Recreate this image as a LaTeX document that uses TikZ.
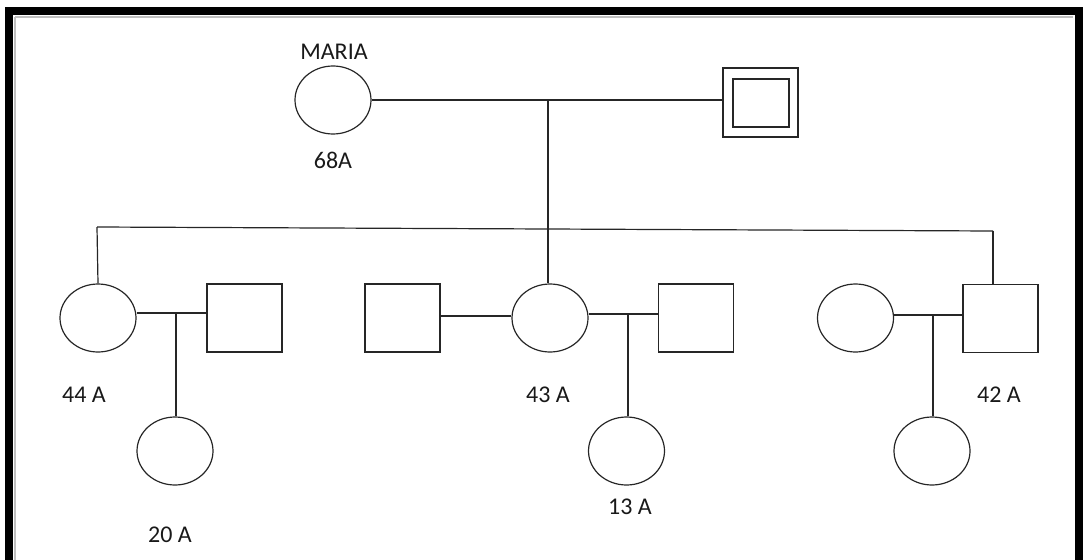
\documentclass[tikz,border=0pt]{standalone}
\usepackage{fontspec}
\setmainfont{Carlito}
\usetikzlibrary{shapes.geometric}
\begin{document}
\begin{tikzpicture}[x=1pt,y=-1pt,
  line width=1.2pt,
  fem/.style={draw=black!85, ellipse, minimum width=76pt, minimum height=68pt, inner sep=0pt},
  male/.style={draw=black!85, rectangle, minimum width=75pt, minimum height=68pt, inner sep=0pt},
  lbl/.style={font=\fontsize{24}{26}\selectfont, text=black!90, inner sep=0pt},
  link/.style={draw=black!85, line width=1.2pt}]
\useasboundingbox (0,0) rectangle (1083,559);
\clip (0,0) rectangle (1083,559);
% frame
\draw[line width=8pt] (9,11) rectangle (1079,620);
\draw[black!25, line width=2pt] (15,17) -- (1073,17);
\draw[black!25, line width=2pt] (15,17) -- (15,600);
% generation I
\node[fem] (maria) at (333,100) {};
\node[lbl] (mariaN) at (334,52) {MARIA};
\node[lbl] (mariaA) at (333,160) {68A};
\node[male, minimum width=75pt, minimum height=69pt] (hus) at (760.5,102.5) {};
\node[draw=black!85, minimum width=56pt, minimum height=48pt, inner sep=0pt] (husin) at (761,103) {};
\coordinate (m1) at (548,100);
\draw[link] (maria.east) -- (maria.east -| hus.west);
% generation II
\node[fem] (c1) at (98,318) {};
\node[male] (s1) at (244.5,318) {};
\node[male] (s2) at (402.5,318) {};
\node[fem] (c2) at (550,318) {};
\node[male] (s3) at (696,318) {};
\node[fem] (c4) at (855.5,318) {};
\node[male] (s4) at (1000.5,318.5) {};
\node[lbl] (a44) at (84,395) {44 A};
\node[lbl] (a43) at (548,395) {43 A};
\node[lbl] (a42) at (999,395) {42 A};
% sibship line
\coordinate (sl) at (97,227);
\coordinate (sm) at (548,229);
\coordinate (sr) at (993,231);
\draw[link] (m1) -- (sm);
\draw[link] (sl) -- (sm) -- (sr);
\draw[link] (sl) -- (c1.north);
\draw[link] (sm) -- (c2.north -| sm);
\draw[link] (sr) -- (sr |- s4.north);
% couples
\draw[link] (c1.east |- 0,313) -- (s1.west |- 0,313);
\draw[link] (s2.east |- 0,316) -- (c2.west |- 0,316);
\draw[link] (c2.east |- 0,314) -- (s3.west |- 0,314);
\draw[link] (c4.east |- 0,315) -- (s4.west |- 0,315);
% generation III
\node[fem] (g1) at (175,451) {};
\node[fem] (g2) at (626.5,451) {};
\node[fem] (g3) at (932,451) {};
\node[lbl] (a20) at (170,535) {20 A};
\node[lbl] (a13) at (630,507) {13 A};
\coordinate (d1) at (176,313);
\coordinate (d2) at (628,314);
\coordinate (d3) at (933,315);
\draw[link] (d1) -- (d1 |- g1.north);
\draw[link] (d2) -- (d2 |- g2.north);
\draw[link] (d3) -- (d3 |- g3.north);
\end{tikzpicture}
\end{document}
